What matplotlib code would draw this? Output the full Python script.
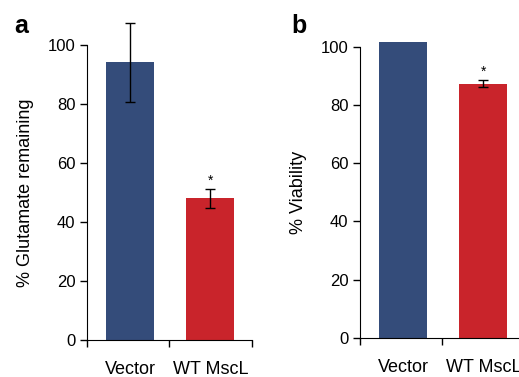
import matplotlib.pyplot as plt

plt.rcParams['font.family'] = ['Liberation Sans', 'DejaVu Sans']

groups = ["Vector", "WT MscL"]
glutamate = [94.2, 48.0]
glutamate_err = [13.4, 3.2]
viability = [101.5, 87.2]
viability_err = [0, 1.2]
sig = [False, True]

colors = ["#344c7a", "#c9242b"]
centers = [0.53, 1.5]

fig = plt.figure(figsize=(5.19, 3.77), dpi=100)
ax_a = fig.add_axes([0.1667, 0.0981, 0.318, 0.7825])
ax_b = fig.add_axes([0.6927, 0.1042, 0.318, 0.772])


def draw(ax, vals, errs, ylabel):
    ax.bar(centers, vals, width=0.58, color=colors, clip_on=False, zorder=2)
    for c, v, e, s in zip(centers, vals, errs, sig):
        if e > 0:
            ax.errorbar(c, v, yerr=e, fmt="none", ecolor="black", elinewidth=1,
                        capsize=3.5, capthick=1, clip_on=False, zorder=3)
        if s:
            ax.annotate("*", xy=(c, v + e), xytext=(0, 1), textcoords="offset points",
                        ha="center", va="bottom", fontsize=10)
    ax.set_xlim(0, 1.96)
    ax.set_ylim(0, 100)
    ax.spines["top"].set_visible(False)
    ax.spines["right"].set_visible(False)
    ax.set_yticks([0, 20, 40, 60, 80, 100])
    ax.set_xticks([0, 1, 2])
    ax.set_xticklabels([])
    ax.set_xticks(centers, minor=True)
    ax.set_xticklabels(groups, minor=True)
    ax.tick_params(axis="x", which="minor", length=0, pad=15, labelsize=13)
    ax.tick_params(axis="x", which="major", length=5, width=1, direction="out")
    ax.tick_params(axis="y", length=5, width=1, direction="out", pad=3, labelsize=12)
    ax.set_ylabel(ylabel, fontsize=13)
    ax.yaxis.set_label_coords(-0.32, 0.5)


draw(ax_a, glutamate, glutamate_err, "% Glutamate remaining")
draw(ax_b, viability, viability_err, "% Viability")

fig.text(0.027, 0.9125, "a", fontsize=18, fontweight="bold", va="baseline")
fig.text(0.5617, 0.9125, "b", fontsize=18, fontweight="bold", va="baseline")

fig.savefig("out.png", dpi=100)
